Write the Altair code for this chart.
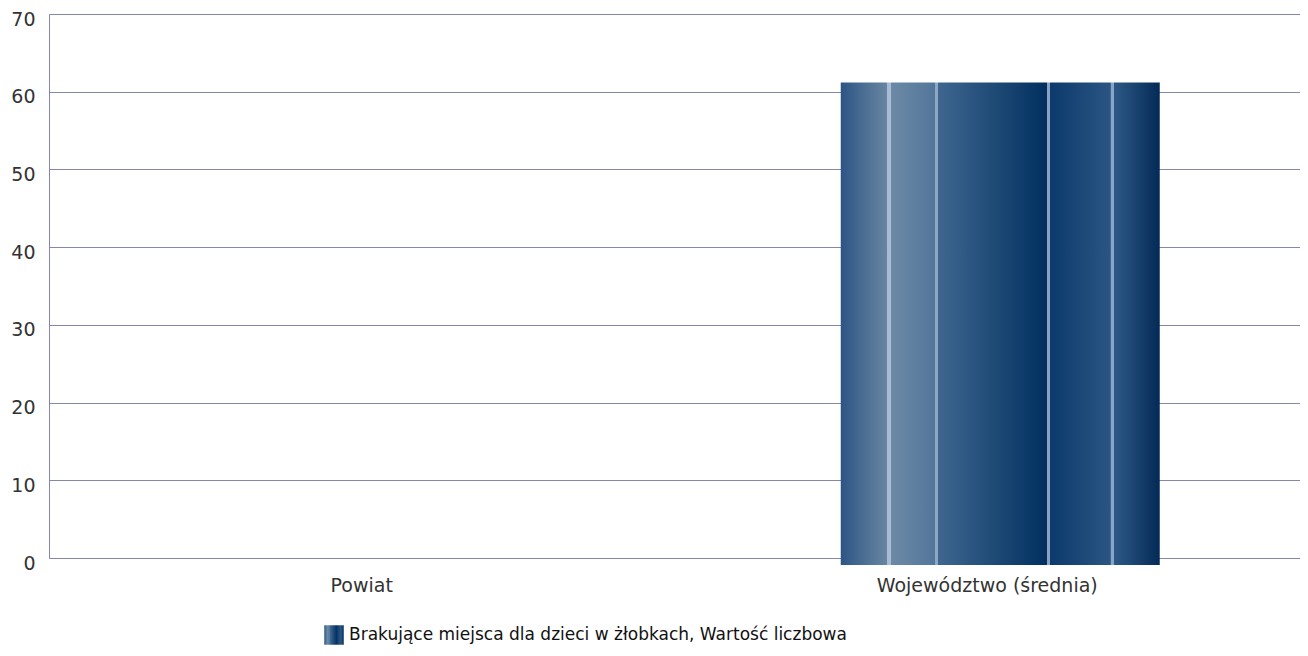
import altair as alt
import pandas as pd

categories = ["Powiat", "Województwo (średnia)"]
values = [0, 62.1]
series_name = "Brakujące miejsca dla dzieci w żłobkach, Wartość liczbowa"
y_ticks = [0, 10, 20, 30, 40, 50, 60, 70]

df = pd.DataFrame({"kategoria": categories, "wartosc": values, "seria": [series_name] * len(categories)})

stops = [
    (0.0, "#2d5584"), (0.145, "#6886a2"), (0.146, "#a8bdd4"), (0.156, "#a8bdd4"),
    (0.157, "#6c8aa6"), (0.296, "#52769a"), (0.297, "#8ea8c4"), (0.305, "#8ea8c4"),
    (0.306, "#3e668f"), (0.645, "#01305f"), (0.648, "#8aa2bf"), (0.655, "#8aa2bf"),
    (0.656, "#0c3a6c"), (0.845, "#2a5583"), (0.848, "#8aa5c4"), (0.855, "#8aa5c4"),
    (0.856, "#2d5987"), (1.0, "#042a57"),
]
grad = alt.LinearGradient(
    gradient="linear", x1=0, y1=0, x2=1, y2=0,
    stops=[alt.GradientStop(offset=o, color=c) for o, c in stops],
)

grid_col = "#8585ae"
font = "DejaVu Sans"

x_enc = alt.X("kategoria:N", sort=categories, title=None,
              scale=alt.Scale(paddingInner=0, paddingOuter=0),
              axis=alt.Axis(labelAngle=0, ticks=False, labelPadding=18,
                            labelFontSize=19, labelColor="#333333", labelFont=font,
                            domainColor=grid_col, labelLimit=400))
y_enc = alt.Y("wartosc:Q", title=None,
              scale=alt.Scale(domain=[0, 70], nice=False),
              axis=alt.Axis(values=y_ticks, ticks=False, labelPadding=14, labelOffset=5,
                            labelFontSize=19, labelColor="#333333", labelFont=font,
                            gridColor=grid_col, domainColor=grid_col))

bars = alt.Chart(df).mark_bar(
    fill=grad, width=alt.RelativeBandSize(0.51), xOffset=13, yOffset=7, y2Offset=7
).encode(x=x_enc, y=y_enc)

legend_layer = alt.Chart(df).mark_point(opacity=0, filled=True, color=grad).encode(
    x=x_enc, y=y_enc,
    shape=alt.Shape("seria:N", scale=alt.Scale(range=["square"]),
                    legend=alt.Legend(title=None, orient="none", legendX=275, legendY=611,
                                      symbolSize=380, symbolOpacity=1,
                                      symbolStrokeWidth=0,
                                      labelFontSize=17, labelFont=font, labelColor="#111111",
                                      labelLimit=0, labelOffset=5)),
)

chart = alt.layer(bars, legend_layer).properties(
    width=1251, height=544,
    autosize=alt.AutoSizeParams(type="none"),
    padding={"left": 41, "top": 6, "right": 0, "bottom": 88},
).configure_view(stroke=None).configure_axis(gridWidth=1, domainWidth=1)

chart.save("out.html", embed_options={"renderer": "svg", "actions": False})
